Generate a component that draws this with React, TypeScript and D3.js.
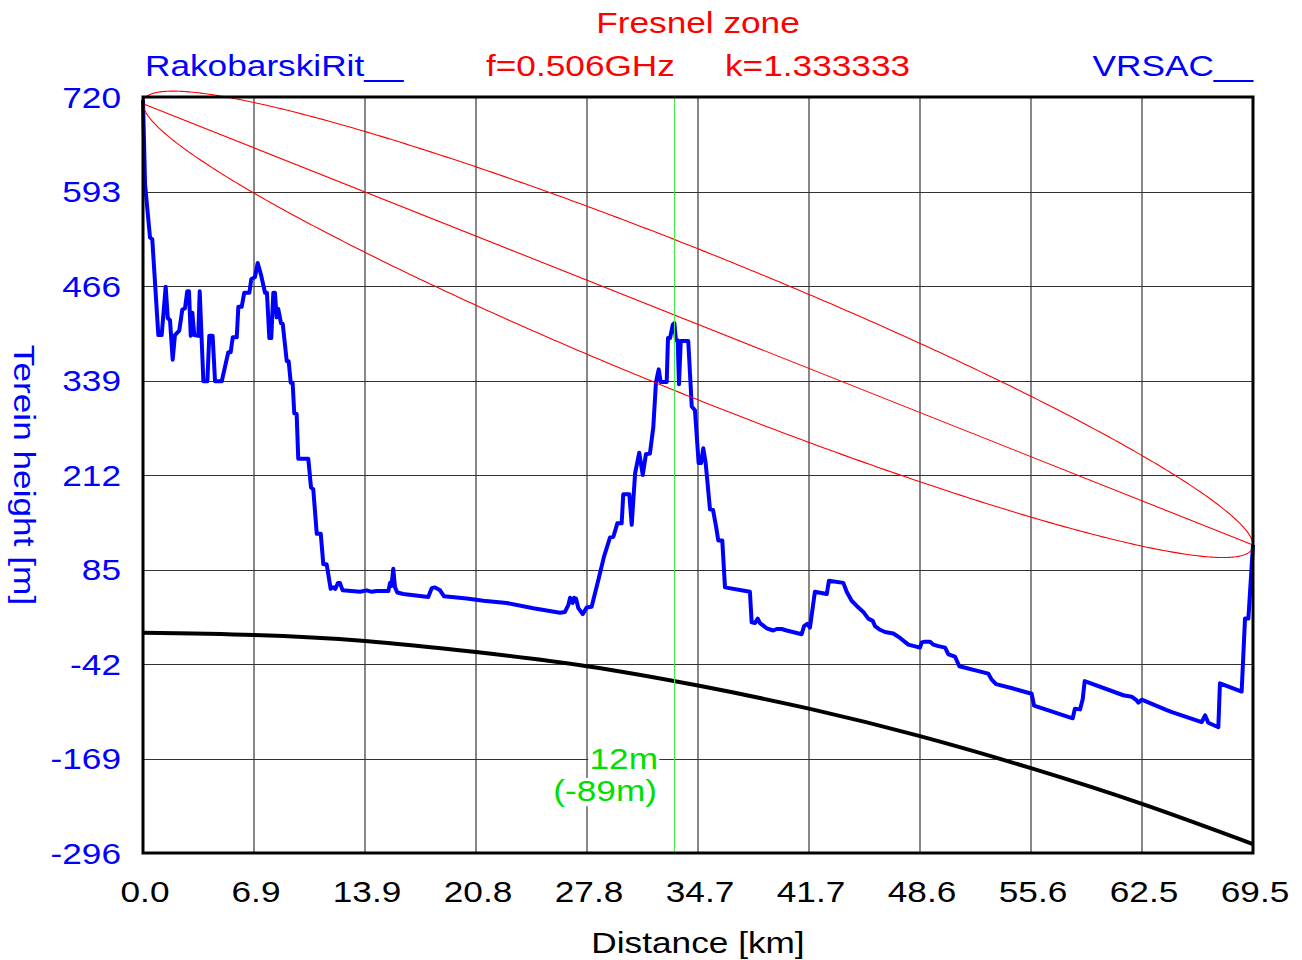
import React, { useEffect, useRef } from "react";
import * as d3 from "d3";

// ---- data ----
const xTickValues = [0, 6.95, 13.9, 20.85, 27.8, 34.75, 41.7, 48.65, 55.6, 62.55, 69.5];
const xTickLabels = ["0.0", "6.9", "13.9", "20.8", "27.8", "34.7", "41.7", "48.6", "55.6", "62.5", "69.5"];
const yTickValues = [720, 593, 466, 339, 212, 85, -42, -169, -296];

const terrainKm = [
  0.0, 0.13, 0.44, 0.58, 0.96, 1.17, 1.42, 1.55, 1.69, 1.86, 2.0, 2.27, 2.46, 2.63, 2.77, 2.88, 2.99, 3.09, 3.21, 3.46,
  3.55, 3.78, 4.03, 4.15, 4.36, 4.51, 4.93, 5.13, 5.34, 5.49, 5.62, 5.87, 5.97, 6.18, 6.34, 6.66, 6.78, 7.01, 7.18, 7.39,
  7.64, 7.76, 7.91, 8.03, 8.16, 8.26, 8.37, 8.47, 8.64, 8.75, 9.0, 9.12, 9.25, 9.37, 9.47, 9.62, 9.72, 10.35, 10.52, 10.66,
  10.88, 11.13, 11.29, 11.5, 11.75, 11.92, 12.04, 12.21, 12.33, 12.5, 13.59, 14.01, 14.32, 14.63, 15.36, 15.47, 15.56, 15.67, 15.78, 15.92,
  16.3, 17.86, 18.08, 18.28, 18.6, 18.85, 20.27, 21.31, 22.77, 24.44, 26.11, 26.42, 26.63, 26.74, 26.9, 26.99, 27.11, 27.26, 27.53, 27.78,
  28.09, 28.51, 28.86, 29.24, 29.45, 29.7, 29.97, 30.07, 30.45, 30.6, 30.81, 31.07, 31.29, 31.49, 31.74, 31.95, 32.12, 32.29, 32.41, 32.79,
  32.87, 33.0, 33.17, 33.27, 33.37, 33.48, 33.56, 33.67, 34.14, 34.36, 34.56, 34.79, 34.94, 35.08, 35.23, 35.5, 35.69, 35.88, 36.02, 36.27,
  36.44, 38.0, 38.11, 38.32, 38.49, 38.63, 39.05, 39.46, 39.68, 39.99, 40.3, 41.24, 41.39, 41.59, 41.76, 42.07, 42.81, 42.95, 43.85, 44.06,
  44.37, 44.69, 45.1, 45.41, 45.69, 45.83, 46.15, 46.46, 46.98, 47.4, 47.92, 48.65, 48.76, 48.96, 49.28, 49.48, 49.8, 50.22, 50.43, 50.84,
  51.11, 52.93, 53.14, 53.41, 54.49, 55.64, 55.79, 58.21, 58.35, 58.67, 58.84, 58.96, 61.38, 61.9, 62.22, 62.32, 62.53, 64.1, 64.47, 66.29,
  66.5, 66.7, 67.33, 67.43, 68.79, 69.0, 69.21, 69.5,
];
const terrainM = [
  716, 602, 531, 529, 400, 400, 465, 423, 420, 367, 400, 406, 434, 436, 459, 459, 399, 430, 400, 399,
  459, 338, 338, 399, 399, 338, 338, 357, 377, 377, 397, 397, 438, 438, 457, 457, 475, 478, 497, 481,
  457, 457, 396, 396, 457, 457, 424, 435, 416, 415, 365, 365, 336, 336, 295, 294, 234, 234, 195, 193,
  133, 133, 92, 92, 59, 61, 59, 67, 67, 57, 55, 57, 55, 56, 56, 67, 63, 86, 61, 54,
  52, 48, 60, 61, 57, 49, 46, 43, 40, 33, 27, 28, 37, 47, 40, 47, 46, 33, 25, 34,
  35, 71, 102, 128, 129, 147, 147, 186, 186, 145, 214, 242, 212, 240, 241, 276, 337, 354, 337, 337,
  396, 396, 414, 416, 393, 393, 334, 392, 392, 304, 299, 228, 228, 248, 228, 166, 165, 143, 124, 124,
  61, 55, 14, 13, 19, 13, 6, 3, 5, 5, 3, -2, 9, 12, 7, 55, 52, 70, 67, 55,
  43, 36, 28, 19, 16, 9, 4, 1, -1, -7, -16, -20, -13, -12, -12, -16, -18, -20, -29, -32,
  -45, -55, -63, -69, -75, -82, -98, -115, -102, -103, -89, -65, -84, -86, -91, -94, -90, -104, -107, -120,
  -111, -121, -127, -68, -79, 19, 19, 118,
];

const earthKm = [0, 6.95, 13.9, 20.85, 27.8, 34.75, 41.7, 48.65, 55.6, 62.55, 69.5];
const earthM = [0, -3, -11, -26, -45, -71, -102, -139, -182, -230, -284];

const txName = "RakobarskiRit__";
const rxName = "VRSAC__";
const freqGHz = 0.506;
const kFactor = "1.333333";
const txLosM = 711;
const rxLosM = 118;
const cursorKm = 33.25;
const cursorLabels = ["12m", "(-89m)"];

const FONT = "'Liberation Sans', Arial, Helvetica, sans-serif";
const SX = 1.215;

export default function App() {
  const ref = useRef<SVGSVGElement>(null);

  useEffect(() => {
    const svg = d3.select(ref.current!);
    svg.selectAll("*").remove();
    const L = 143, R = 1253, T = 97, B = 853;
    const x = d3.scaleLinear().domain([0, 69.5]).range([L, R]);
    const y = d3.scaleLinear().domain([-296, 720]).range([B, T]);

    svg.append("rect").attr("x", 0).attr("y", 0).attr("width", 1302).attr("height", 960).attr("fill", "#fff");

    // grid
    const grid = svg.append("g");
    xTickValues.slice(1, -1).forEach((v) => {
      grid.append("line").attr("x1", x(v)).attr("x2", x(v)).attr("y1", T).attr("y2", B)
        .attr("stroke", "#555").attr("stroke-width", 1.4);
    });
    yTickValues.slice(1, -1).forEach((v) => {
      grid.append("line").attr("x1", L).attr("x2", R).attr("y1", Math.round(y(v)) + 0.5).attr("y2", Math.round(y(v)) + 0.5)
        .attr("stroke", "#333").attr("stroke-width", 1.1);
    });

    // earth curve
    const earth = earthKm.map((d, i) => [d, earthM[i]] as [number, number]);
    svg.append("path").datum(earth)
      .attr("d", d3.line<[number, number]>().x((d) => x(d[0])).y((d) => y(d[1])).curve(d3.curveNatural))
      .attr("fill", "none").attr("stroke", "#000").attr("stroke-width", 4);

    // terrain
    const terr = terrainKm.map((d, i) => [d, terrainM[i]] as [number, number]);
    svg.append("path").datum(terr)
      .attr("d", d3.line<[number, number]>().x((d) => x(d[0])).y((d) => y(d[1])))
      .attr("fill", "none").attr("stroke", "#0000ff").attr("stroke-width", 4)
      .attr("stroke-linejoin", "round");

    // Fresnel zone
    const D = 69.5;
    const los = (d: number) => txLosM + ((rxLosM - txLosM) * d) / D;
    const rad = (d: number) => 17.32 * Math.sqrt(Math.max(0, (d * (D - d)) / (freqGHz * D)));
    const N = 300;
    const upper: [number, number][] = [];
    const lower: [number, number][] = [];
    for (let i = 0; i <= N; i++) {
      const d = (D * (1 - Math.cos((Math.PI * i) / N))) / 2;
      upper.push([d, los(d) + rad(d)]);
      lower.push([d, los(d) - rad(d)]);
    }
    const ell = upper.concat(lower.reverse());
    svg.append("path").datum(ell)
      .attr("d", d3.line<[number, number]>().x((d) => x(d[0])).y((d) => y(d[1])).curve(d3.curveLinearClosed))
      .attr("fill", "none").attr("stroke", "#ff0000").attr("stroke-width", 1.1);
    svg.append("line").attr("x1", x(0)).attr("y1", y(txLosM)).attr("x2", x(D)).attr("y2", y(rxLosM))
      .attr("stroke", "#ff0000").attr("stroke-width", 1.1);

    // cursor line
    svg.append("line").attr("x1", Math.round(x(cursorKm)) + 0.5).attr("x2", Math.round(x(cursorKm)) + 0.5)
      .attr("y1", T).attr("y2", B).attr("stroke", "#44ee44").attr("stroke-width", 1);

    // frame
    svg.append("rect").attr("x", L).attr("y", T).attr("width", R - L).attr("height", B - T)
      .attr("fill", "none").attr("stroke", "#000").attr("stroke-width", 3);

    const text = (s: string, tx: number, ty: number, anchor: string, color: string, rot = "") => {
      const g = svg.append("g").attr("transform", `translate(${tx},${ty})${rot} scale(${SX},1)`);
      const t = g.append("text").attr("text-anchor", anchor).attr("fill", color)
        .style("font-family", FONT).style("font-size", "29px").text(s);
      return { g, t };
    };

    // cursor labels with white background
    const cl = [[658, 769], [657, 801]];
    cursorLabels.forEach((s, i) => {
      const { g, t } = text(s, cl[i][0], cl[i][1], "end", "#00e000");
      const bb = (t.node() as SVGTextElement).getBBox();
      g.insert("rect", "text").attr("x", bb.x - 1).attr("y", bb.y + 3).attr("width", bb.width + 2)
        .attr("height", bb.height - 4).attr("fill", "#fff");
    });

    // y tick labels
    yTickValues.forEach((v) => text(String(v), 121, y(v) + 10.5, "end", "#0000ff"));
    // x tick labels
    xTickValues.forEach((v, i) => text(xTickLabels[i], x(v) + 2, 902, "middle", "#000"));

    // titles
    text("Fresnel zone", 698, 33, "middle", "#ff0000");
    text(txName, 145, 76, "start", "#0000ff");
    text(`f=${freqGHz}GHz`, 486, 76, "start", "#ff0000");
    text(`k=${kFactor}`, 725, 76, "start", "#ff0000");
    text(rxName, 1253, 76, "end", "#0000ff");
    text("Distance [km]", 698, 953, "middle", "#000");
    text("Terein height [m]", 14, 475, "middle", "#0000ff", " rotate(90)");
  }, []);

  return (
    <svg ref={ref} width={1302} height={960} style={{ position: "absolute", left: 0, top: 0, display: "block" }} />
  );
}
